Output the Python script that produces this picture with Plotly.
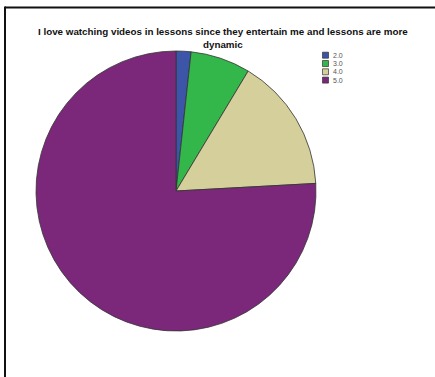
import plotly.graph_objects as go

# Response counts per answer value
categories = ["2.0", "3.0", "4.0", "5.0"]
counts = [1, 4, 9, 44]
colors = ["#3C55A8", "#33B64A", "#D5D09B", "#7B287A"]

title_line1 = "I love watching videos in lessons since they entertain me and lessons are more"
title_line2 = "dynamic"

W, H = 435, 377
FONT = "Liberation Sans, Arial"

fig = go.Figure()
fig.add_trace(go.Pie(
    labels=categories,
    values=counts,
    sort=False,
    direction="clockwise",
    rotation=0,
    marker=dict(colors=colors, line=dict(color="#333333", width=0.8)),
    textinfo="none",
    hoverinfo="label+value+percent",
    showlegend=False,
    domain=dict(x=[36 / W, 316 / W], y=[1 - 331 / H, 1 - 51 / H]),
))

shapes = [
    # frame: top and left rules
    dict(type="line", xref="paper", yref="paper", x0=5 / W, x1=1.0, y0=1 - 7.5 / H, y1=1 - 7.5 / H,
         line=dict(color="#111111", width=2)),
    dict(type="line", xref="paper", yref="paper", x0=5 / W, x1=5 / W, y0=0, y1=1 - 6.5 / H,
         line=dict(color="#111111", width=2)),
]
annotations = [
    dict(text="<b>" + title_line1 + "<br>" + title_line2 + "</b>", x=222.5 / W, y=1 - 38 / H,
         xref="paper", yref="paper", showarrow=False, xanchor="center", yanchor="middle",
         align="center", font=dict(family=FONT, size=9.8, color="#111111")),
]

# hand-built legend: small swatches with value labels
for i, (cat, col) in enumerate(zip(categories, colors)):
    yc = 55.2 + i * 8.3
    shapes.append(dict(type="rect", xref="paper", yref="paper",
                       x0=322.5 / W, x1=328.5 / W, y0=1 - (yc + 3) / H, y1=1 - (yc - 3) / H,
                       fillcolor=col, line=dict(color="#333333", width=0.7)))
    annotations.append(dict(text=cat, x=330.5 / W, y=1 - yc / H, xref="paper", yref="paper",
                            showarrow=False, xanchor="left", yanchor="middle",
                            font=dict(family=FONT, size=7, color="#555555")))

fig.update_layout(
    width=W, height=H,
    margin=dict(l=0, r=0, t=0, b=0),
    paper_bgcolor="white",
    plot_bgcolor="white",
    shapes=shapes,
    annotations=annotations,
)

fig.write_html("out.html")
